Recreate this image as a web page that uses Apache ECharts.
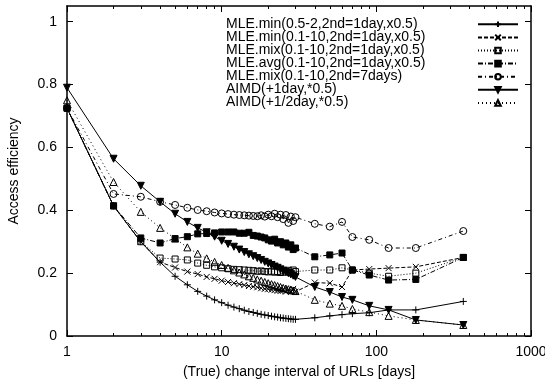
<!DOCTYPE html>
<html><head><meta charset="utf-8">
<script src="https://cdn.jsdelivr.net/npm/echarts@6/dist/echarts.min.js"></script>
<style>html,body{margin:0;padding:0;background:#fff}#c{width:545px;height:380px}</style>
</head><body><div id="c"></div>
<script>
const days = [1,2,3,4,5,6,7,8,9,10,11,12,13,14,15,16,17,18,19,20,21,22,23,24,25,26,27,28,29,30,40,50,60,70,90,120,180,365];

const seriesNames = [
  'MLE.min(0.5-2,2nd=1day,x0.5)',
  'MLE.min(0.1-10,2nd=1day,x0.5)',
  'MLE.mix(0.1-10,2nd=1day,x0.5)',
  'MLE.avg(0.1-10,2nd=1day,x0.5)',
  'MLE.mix(0.1-10,2nd=7days)',
  'AIMD(+1day,*0.5)',
  'AIMD(+1/2day,*0.5)'
];

const mleMinNarrow = [0.725,0.414,0.300,0.235,0.190,0.163,0.142,0.127,0.115,0.106,0.098,0.092,0.087,0.082,0.078,0.075,0.072,0.069,0.067,0.065,0.063,0.061,0.060,0.058,0.057,0.056,0.055,0.054,0.053,0.053,0.058,0.064,0.068,0.071,0.074,0.083,0.083,0.110];
const mleMinWide = [0.725,0.414,0.300,0.235,0.218,0.205,0.197,0.188,0.182,0.176,0.172,0.168,0.165,0.162,0.159,0.157,0.155,0.152,0.150,0.149,0.147,0.146,0.144,0.143,0.146,0.141,0.148,0.140,0.150,0.141,0.170,0.168,0.156,0.210,0.213,0.216,0.220,0.250];
const mleMix1 = [0.725,0.414,0.300,0.248,0.245,0.242,0.232,0.225,0.220,0.217,0.214,0.212,0.211,0.210,0.209,0.208,0.206,0.207,0.205,0.204,0.206,0.203,0.205,0.202,0.207,0.203,0.209,0.201,0.210,0.205,0.210,0.210,0.217,0.210,0.200,0.190,0.200,0.250];
const mleAvg = [0.725,0.414,0.312,0.296,0.310,0.316,0.325,0.326,0.328,0.331,0.331,0.331,0.327,0.327,0.330,0.320,0.318,0.315,0.312,0.306,0.302,0.308,0.296,0.300,0.290,0.296,0.283,0.290,0.275,0.280,0.252,0.258,0.264,0.210,0.194,0.178,0.180,0.250];
const mleMix7 = [0.725,0.452,0.443,0.427,0.417,0.408,0.401,0.397,0.393,0.390,0.388,0.386,0.385,0.384,0.383,0.382,0.381,0.384,0.380,0.386,0.381,0.389,0.378,0.386,0.372,0.385,0.360,0.380,0.366,0.378,0.357,0.348,0.363,0.315,0.306,0.280,0.280,0.334];
const aimd1 = [0.790,0.564,0.478,0.427,0.389,0.363,0.344,0.330,0.316,0.303,0.293,0.284,0.275,0.267,0.260,0.254,0.248,0.242,0.236,0.231,0.226,0.221,0.217,0.212,0.208,0.204,0.200,0.196,0.192,0.188,0.156,0.140,0.124,0.115,0.096,0.083,0.051,0.035];
const aimdHalf = [0.750,0.490,0.395,0.344,0.310,0.282,0.262,0.247,0.236,0.226,0.217,0.209,0.202,0.196,0.190,0.185,0.180,0.176,0.172,0.168,0.165,0.162,0.159,0.156,0.153,0.151,0.149,0.147,0.145,0.143,0.115,0.103,0.096,0.086,0.076,0.064,0.051,0.035];

const xMajorTicks = [1,10,100,1000];
const xMinorTicks = [2,3,4,5,6,7,8,9,20,30,40,50,60,70,80,90,200,300,400,500,600,700,800,900];
const yTicks = [0,0.2,0.4,0.6,0.8,1];

const allValues = [mleMinNarrow, mleMinWide, mleMix1, mleAvg, mleMix7, aimd1, aimdHalf];

const FONT = '"Liberation Sans", Arial, Helvetica, sans-serif';
const styles = [
  {symbol:'path://M5,0L5,10M0,5L10,5', size:7, fill:'#000', dash:'solid', rotate:0},
  {symbol:'path://M0,0L10,10M10,0L0,10', size:6, fill:'#000', dash:[4,2], rotate:0},
  {symbol:'rect', size:6, fill:'transparent', dash:[1,2], rotate:0},
  {symbol:'rect', size:6, fill:'#000', dash:[5,2,1,2], rotate:0},
  {symbol:'circle', size:7, fill:'transparent', dash:[4,3,1,3], rotate:0},
  {symbol:'triangle', size:7, fill:'#000', dash:'solid', rotate:180},
  {symbol:'triangle', size:7, fill:'transparent', dash:[1,3], rotate:0}
];

const series = allValues.map((vals, i) => ({
  name: seriesNames[i],
  type: 'line',
  xAxisIndex: 0, yAxisIndex: 0,
  data: days.map((d, j) => [d, vals[j]]),
  symbol: styles[i].symbol,
  symbolSize: styles[i].size,
  symbolRotate: styles[i].rotate,
  showAllSymbol: true,
  lineStyle: {color:'#000', width:1, type: styles[i].dash},
  itemStyle: {color: styles[i].fill, borderColor:'#000', borderWidth:1},
  emphasis: {disabled:true},
  z: 2 + i
}));

const axisLineStyle = {color:'#000', width:1.5};
const logAxisBase = {type:'log', logBase:10, min:1, max:1000, splitLine:{show:false}};

const option = {
  animation:false,
  backgroundColor:'#fff',
  grid:{left:67, right:14, top:6, bottom:44, containLabel:false, outerBoundsMode:'none'},
  legend:[
    {data:seriesNames, orient:'vertical', left:216, top:12.5, icon:'none', itemWidth:0, itemHeight:13.5, itemGap:-1,
     selectedMode:false, textStyle:{fontSize:14, lineHeight:13.5, color:'#000', fontFamily:FONT}},
    {data:seriesNames, orient:'vertical', left:472, top:15.5, itemWidth:40, itemHeight:7, itemGap:5.5,
     selectedMode:false, formatter:()=>'', textStyle:{fontSize:1, lineHeight:1}}
  ],
  xAxis:[
    Object.assign({}, logAxisBase, {position:'bottom',
      axisLine:{show:true, onZero:false, lineStyle:axisLineStyle},
      axisTick:{show:true, inside:true, length:6, customValues:xMajorTicks, lineStyle:{color:'#000'}},
      axisLabel:{show:true, customValues:xMajorTicks, formatter:(v)=>String(v), color:'#000', fontSize:14, fontFamily:FONT, margin:9},
      name:'(True) change interval of URLs [days]', nameLocation:'middle', nameGap:29,
      nameTextStyle:{color:'#000', fontSize:14, fontFamily:FONT}}),
    Object.assign({}, logAxisBase, {position:'bottom',
      axisLine:{show:false, onZero:false},
      axisTick:{show:true, inside:true, length:3, customValues:xMinorTicks, lineStyle:{color:'#000'}},
      axisLabel:{show:false}}),
    Object.assign({}, logAxisBase, {position:'top',
      axisLine:{show:true, onZero:false, lineStyle:axisLineStyle},
      axisTick:{show:true, inside:true, length:6, customValues:xMajorTicks, lineStyle:{color:'#000'}},
      axisLabel:{show:false}}),
    Object.assign({}, logAxisBase, {position:'top',
      axisLine:{show:false, onZero:false},
      axisTick:{show:true, inside:true, length:3, customValues:xMinorTicks, lineStyle:{color:'#000'}},
      axisLabel:{show:false}})
  ],
  yAxis:[
    {type:'value', min:0, max:1.05, interval:0.2, position:'left', splitLine:{show:false},
     axisLine:{show:true, onZero:false, lineStyle:axisLineStyle},
     axisTick:{show:true, inside:true, length:6, customValues:yTicks, lineStyle:{color:'#000'}},
     axisLabel:{show:true, customValues:yTicks, color:'#000', fontSize:14, fontFamily:FONT, margin:10},
     name:'Access efficiency', nameLocation:'middle', nameGap:46,
     nameTextStyle:{color:'#000', fontSize:14, fontFamily:FONT}},
    {type:'value', min:0, max:1.05, interval:0.2, position:'right', splitLine:{show:false},
     axisLine:{show:true, onZero:false, lineStyle:axisLineStyle},
     axisTick:{show:true, inside:true, length:6, customValues:yTicks, lineStyle:{color:'#000'}},
     axisLabel:{show:false}}
  ],
  series: series
};

const chart = echarts.init(document.getElementById('c'), null, {renderer:'canvas'});
chart.setOption(option);
</script>
</body></html>
